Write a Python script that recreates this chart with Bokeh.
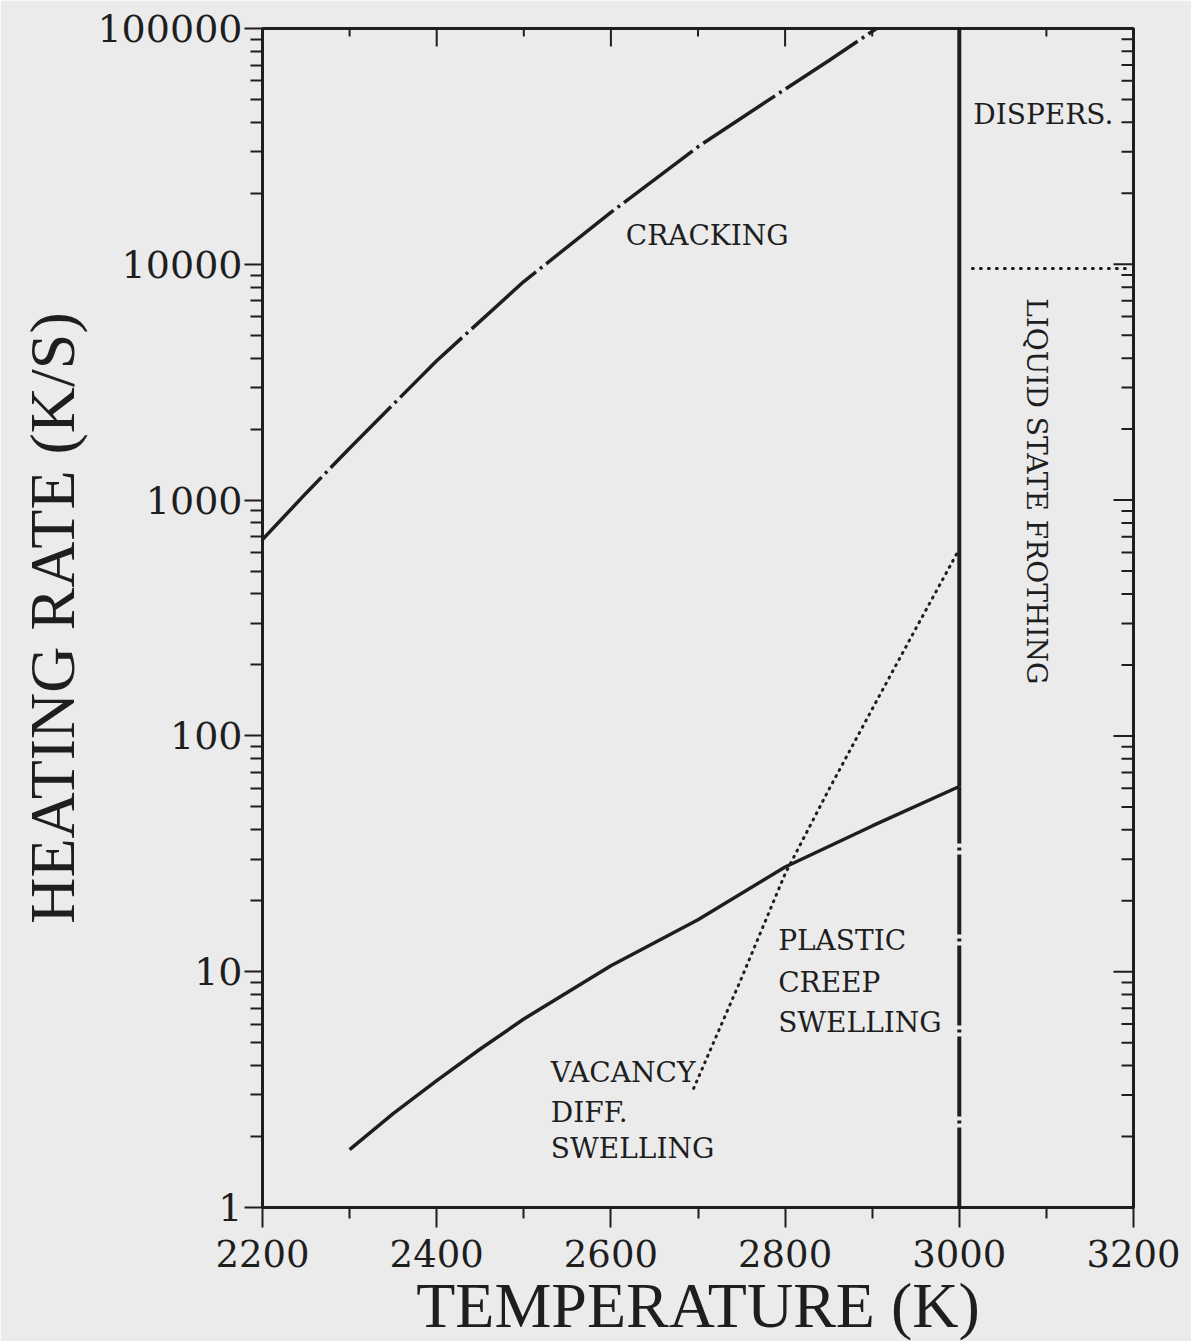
import math
from bokeh.plotting import figure
from bokeh.models import Range1d, FixedTicker, PrintfTickFormatter
from bokeh.embed import file_html
from bokeh.resources import INLINE
from bokeh.core.properties import value

INK = "#1e1e1e"
BG = "#ebebeb"

# ---- data ----
x_major = [2200, 2400, 2600, 2800, 3000, 3200]
x_minor = [2300, 2500, 2700, 2900, 3100]
y_major = [1, 10, 100, 1000, 10000, 100000]
y_minor = [m * d for d in [1, 10, 100, 1000, 10000] for m in range(2, 10)]

crack_T = [2200, 2250, 2300, 2400, 2500, 2600, 2700, 2800, 2850, 2905]
crack_rate = [680, 1070, 1660, 3900, 8450, 16600, 31500, 55300, 73000, 100000]

creep_T = [2300, 2350, 2400, 2450, 2500, 2600, 2700, 2800, 2900, 3000]
creep_rate = [1.76, 2.5, 3.45, 4.7, 6.3, 10.6, 16.6, 27.8, 41.5, 61]

vac_T = [2695, 2750, 2800, 2850, 2900, 2950, 3000]
vac_rate = [3.2, 9.4, 26, 59, 130, 285, 620]

melt_T = 3000
melt_low = [1, 61]
melt_high = [61, 100000]

disp_T = [3015, 3195]
disp_rate = [9600, 9600]

lab_text = ["CRACKING", "DISPERS.", "PLASTIC", "CREEP", "SWELLING", "VACANCY", "DIFF.", "SWELLING"]
lab_T = [2617, 3016, 2792, 2792, 2792, 2531, 2531, 2531]
lab_rate = [13200, 43000, 13.5, 9.03, 6.11, 3.75, 2.54, 1.78]

froth_text = ["LIQUID STATE FROTHING"]
froth_T = [3089]
froth_rate = [1090]

x_lo, x_hi = 2200, 3200
y_lo, y_hi = 1, 100000

# ---- figure ----
p = figure(frame_width=871, frame_height=1179,
           x_range=Range1d(x_lo, x_hi), y_range=Range1d(y_lo, y_hi),
           y_axis_type="log", output_backend="svg", toolbar_location=None,
           min_border_left=262, min_border_top=28, min_border_bottom=134,
           min_border_right=58,
           background_fill_color=BG, border_fill_color=BG)
p.grid.visible = False
p.outline_line_color = INK
p.outline_line_width = 3

xa = p.xaxis[0]
xa.ticker = FixedTicker(ticks=x_major, minor_ticks=x_minor)
xa.axis_label = "TEMPERATURE (K)"
xa.axis_label_text_font = "Liberation Serif"
xa.axis_label_text_font_style = "normal"
xa.axis_label_text_font_size = "64px"
xa.axis_label_text_color = INK
xa.axis_label_standoff = 0
xa.major_label_text_font = "DejaVu Serif"
xa.major_label_text_font_size = "37px"
xa.major_label_text_color = INK
xa.major_label_standoff = 12
xa.major_tick_out = 20
xa.major_tick_in = 0
xa.minor_tick_out = 11
xa.minor_tick_in = 0
xa.axis_line_width = 3
xa.major_tick_line_width = 2
xa.minor_tick_line_width = 2
xa.axis_line_color = INK
xa.major_tick_line_color = INK
xa.minor_tick_line_color = INK

ya = p.yaxis[0]
ya.ticker = FixedTicker(ticks=y_major, minor_ticks=y_minor)
ya.formatter = PrintfTickFormatter(format="%d")
ya.axis_label = "HEATING RATE (K/S)"
ya.axis_label_text_font = "Liberation Serif"
ya.axis_label_text_font_style = "normal"
ya.axis_label_text_font_size = "64px"
ya.axis_label_text_color = INK
ya.axis_label_standoff = 6
ya.major_label_text_font = "DejaVu Serif"
ya.major_label_text_font_size = "38px"
ya.major_label_text_color = INK
ya.major_label_standoff = 2
ya.major_tick_out = 18
ya.major_tick_in = 0
ya.minor_tick_out = 12
ya.minor_tick_in = 0
ya.axis_line_width = 3
ya.major_tick_line_width = 2
ya.minor_tick_line_width = 2
ya.axis_line_color = INK
ya.major_tick_line_color = INK
ya.minor_tick_line_color = INK

# inner ticks on the top and right edges
p.ray(x=x_major[1:-1], y=[y_hi] * len(x_major[1:-1]), length=18, length_units="screen",
      angle=-math.pi / 2, line_color=INK, line_width=2)
p.ray(x=x_minor, y=[y_hi] * len(x_minor), length=8, length_units="screen",
      angle=-math.pi / 2, line_color=INK, line_width=2)
p.ray(x=[x_hi] * len(y_major[1:-1]), y=y_major[1:-1], length=20, length_units="screen",
      angle=math.pi, line_color=INK, line_width=2)
p.ray(x=[x_hi] * len(y_minor), y=y_minor, length=12, length_units="screen",
      angle=math.pi, line_color=INK, line_width=2)

# ---- curves ----
p.line(crack_T, crack_rate, line_color=INK, line_width=3.5, line_dash="86 5 3 5")
p.line(creep_T, creep_rate, line_color=INK, line_width=3.5)
p.line(vac_T, vac_rate, line_color=INK, line_width=3, line_dash="1 6", line_cap="round")
p.line([melt_T, melt_T], melt_high, line_color=INK, line_width=4)
p.line([melt_T, melt_T], melt_low, line_color=INK, line_width=4, line_dash="80 4 3 4")
p.line(disp_T, disp_rate, line_color=INK, line_width=3, line_dash="1 7", line_cap="round")

# ---- labels ----
p.text(x=lab_T, y=lab_rate, text=lab_text, text_font=value("DejaVu Serif"),
       text_font_size=value("28px"), text_color=INK,
       text_align="left", text_baseline="middle")
p.text(x=froth_T, y=froth_rate, text=froth_text, text_font=value("DejaVu Serif"),
       text_font_size=value("28px"), text_color=INK, angle=-math.pi / 2,
       text_align="center", text_baseline="middle")

open("out.html", "w").write(file_html(p, INLINE))
